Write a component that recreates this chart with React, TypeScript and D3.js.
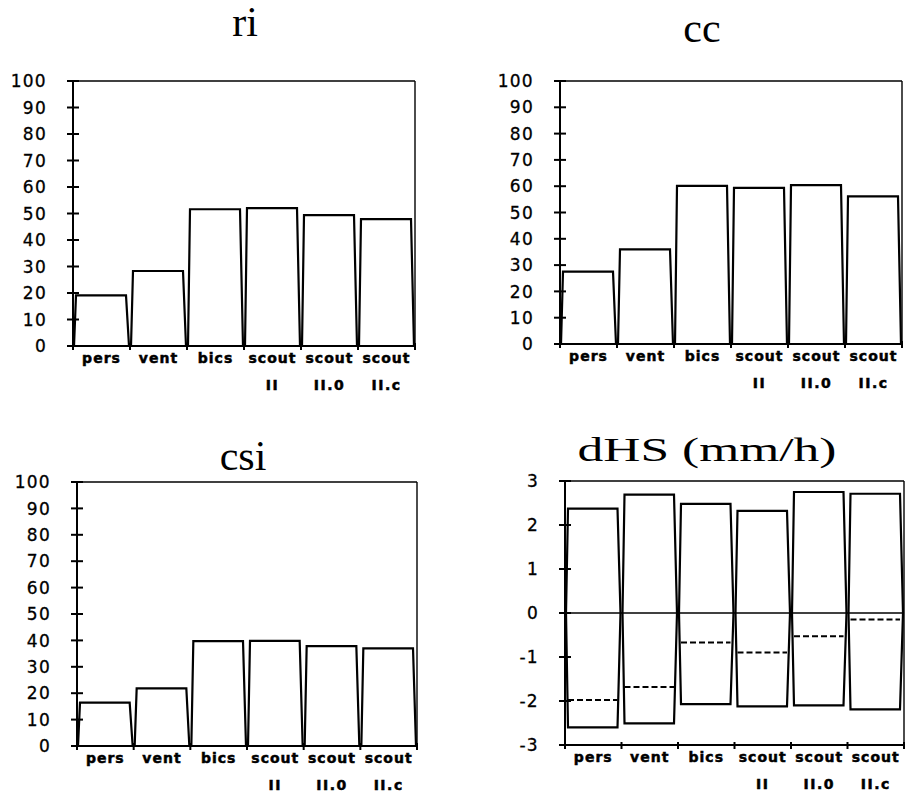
import React from "react";
import * as d3 from "d3";

const categories = ["pers", "vent", "bics", "scout", "scout", "scout"];
const subLabels = ["", "", "", "II", "II.0", "II.c"];
const riValues = [19.1, 28.3, 51.6, 52.0, 49.4, 47.9];
const ccValues = [27.5, 36.0, 60.1, 59.4, 60.4, 56.1];
const csiValues = [16.4, 21.8, 39.7, 39.8, 37.8, 37.0];
const dhsMax = [2.37, 2.69, 2.48, 2.32, 2.75, 2.71];
const dhsMin = [-2.6, -2.51, -2.07, -2.12, -2.1, -2.19];
const dhsMean = [-1.98, -1.68, -0.67, -0.9, -0.53, -0.15];
const pctTicks = [0, 10, 20, 30, 40, 50, 60, 70, 80, 90, 100];
const dhsTicks = [-3, -2, -1, 0, 1, 2, 3];

type PanelProps = {
  x0: number; x1: number; yTop: number; yBot: number;
  domain: [number, number]; ticks: number[];
  title: string; titleX: number; titleY: number; titleSize: number; titleLength?: number;
  bars: number[][]; mean?: number[];
};

const lineGen = d3.line<[number, number]>();

function Panel(p: PanelProps) {
  const y = d3.scaleLinear().domain(p.domain).range([p.yBot, p.yTop]);
  const x = d3.scaleBand<number>().domain(d3.range(categories.length)).range([p.x0, p.x1]).padding(0);
  const bw = x.bandwidth();
  const y0 = y(0);
  const bounds = d3.range(categories.length + 1).map((i) => p.x0 + i * bw);
  const trap = (i: number, v: number) => {
    const a = x(i)!;
    const b = a + bw;
    const pts: [number, number][] = [
      [a + 1, y0], [a + 3, y(v)], [b - 4, y(v)], [b - 1, y0],
    ];
    return lineGen(pts)!;
  };
  return (
    <g>
      <text x={p.titleX} y={p.titleY} textAnchor="middle" fontFamily="Liberation Serif, serif" fontSize={p.titleSize}
        textLength={p.titleLength} lengthAdjust={p.titleLength ? "spacingAndGlyphs" : undefined}>{p.title}</text>
      <line x1={p.x0} x2={p.x1} y1={p.yTop} y2={p.yTop} stroke="#000" strokeWidth={1.6} />
      <line x1={p.x1} x2={p.x1} y1={p.yTop} y2={p.yBot} stroke="#000" strokeWidth={1.4} />
      <line x1={p.x0} x2={p.x1} y1={p.yBot} y2={p.yBot} stroke="#000" strokeWidth={1.8} />
      <line x1={p.x0} x2={p.x0} y1={p.yTop} y2={p.yBot} stroke="#000" strokeWidth={2} />
      {p.domain[0] < 0 && (
        <line x1={p.x0} x2={p.x1} y1={y0} y2={y0} stroke="#000" strokeWidth={1.6} />
      )}
      {p.ticks.map((t) => (
        <g key={t}>
          <line x1={p.x0 - 6} x2={p.x0 + 6} y1={y(t)} y2={y(t)} stroke="#000" strokeWidth={2} />
          <text x={p.x0 - 26} y={y(t)} dy="0.36em" textAnchor="end" fontFamily="DejaVu Sans, sans-serif"
            fontSize={17} letterSpacing={1.3} stroke="#000" strokeWidth={0.3}>{t}</text>
        </g>
      ))}
      {bounds.map((bx, i) => (
        <line key={i} x1={bx} x2={bx} y1={p.yBot - 3} y2={p.yBot + 4} stroke="#000" strokeWidth={2} />
      ))}
      {p.bars.map((series, si) =>
        series.map((v, i) => (
          <path key={`${si}-${i}`} d={trap(i, v)} fill="none" stroke="#000" strokeWidth={2.2} strokeLinejoin="miter" />
        ))
      )}
      {p.mean && p.mean.map((v, i) => (
        <line key={`m${i}`} x1={x(i)! + 3} x2={x(i)! + bw - 4} y1={y(v)} y2={y(v)} stroke="#000"
          strokeWidth={2} strokeDasharray="6,3" />
      ))}
      {categories.map((c, i) => (
        <g key={`l${i}`}>
          <text x={x(i)! + bw / 2} y={p.yBot + 17} textAnchor="middle" fontFamily="DejaVu Sans, sans-serif"
            fontWeight="bold" fontSize={14} letterSpacing={1} stroke="#000" strokeWidth={0.5}>{c}</text>
          {subLabels[i] && (
            <text x={x(i)! + bw / 2} y={p.yBot + 44} textAnchor="middle" fontFamily="DejaVu Sans, sans-serif"
              fontWeight="bold" fontSize={14} letterSpacing={1.5} stroke="#000" strokeWidth={0.5}>{subLabels[i]}</text>
          )}
        </g>
      ))}
    </g>
  );
}

export default function App() {
  return (
    <svg width={909} height={799} style={{ position: "absolute", left: 0, top: 0, background: "#fff" }}>
      <rect x={0} y={0} width={909} height={799} fill="#fff" />
      <Panel x0={73} x1={415} yTop={81} yBot={346} domain={[0, 100]} ticks={pctTicks}
        title="ri" titleX={245} titleY={36} titleSize={42} bars={[riValues]} />
      <Panel x0={560} x1={902} yTop={81} yBot={344} domain={[0, 100]} ticks={pctTicks}
        title="cc" titleX={702} titleY={42} titleSize={42} bars={[ccValues]} />
      <Panel x0={77} x1={417} yTop={482} yBot={746} domain={[0, 100]} ticks={pctTicks}
        title="csi" titleX={243} titleY={470} titleSize={42} bars={[csiValues]} />
      <Panel x0={565} x1={904} yTop={481} yBot={745} domain={[-3, 3]} ticks={dhsTicks}
        title="dHS (mm/h)" titleX={707} titleY={461} titleSize={34} titleLength={259}
        bars={[dhsMax, dhsMin]} mean={dhsMean} />
    </svg>
  );
}
